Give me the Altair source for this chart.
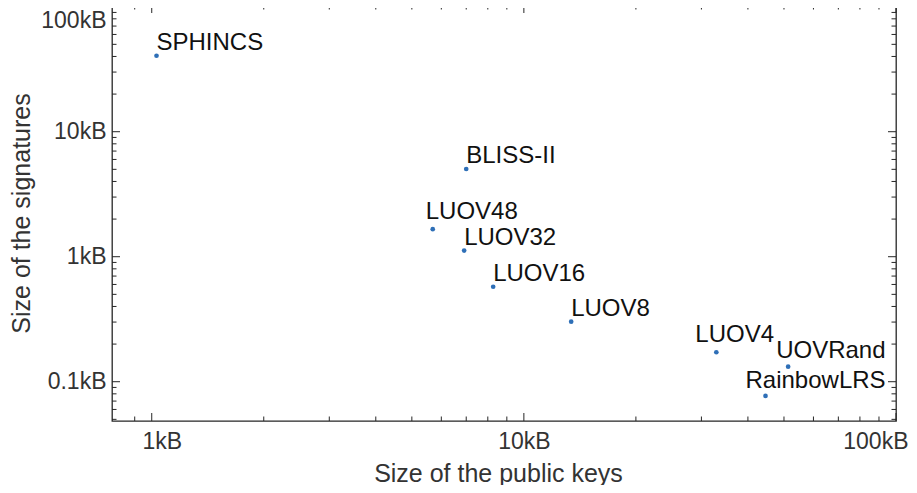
import altair as alt
import pandas as pd

# ---- data (sizes in kB) ----
names = ["SPHINCS", "BLISS-II", "LUOV48", "LUOV32", "LUOV16", "LUOV8", "LUOV4", "UOVRand", "RainbowLRS"]
public_key_kb = [1.03, 7.0, 5.69, 6.91, 8.27, 13.4, 32.9, 51.3, 44.6]
signature_kb = [40.5, 5.03, 1.66, 1.12, 0.575, 0.302, 0.172, 0.132, 0.077]

x_major = [1, 10, 100]
x_minor = [0.9, 2, 3, 4, 5, 6, 7, 8, 9, 20, 30, 40, 50, 60, 70, 80, 90]
y_major = [0.1, 1, 10, 100]
y_minor = [0.05, 0.06, 0.07, 0.08, 0.09, 0.2, 0.3, 0.4, 0.5, 0.6, 0.7, 0.8, 0.9,
           2, 3, 4, 5, 6, 7, 8, 9, 20, 30, 40, 50, 60, 70, 80, 90]

# ---- styling ----
W, H = 784, 416
FONT = "Liberation Sans"
AXIS_COLOR = "#262626"
TEXT_COLOR = "#333333"
POINT_COLOR = "#2e6fb7"
MAJOR, MINOR = 8, 4.5
X_DOMAIN = [0.782, 100]
Y_DOMAIN = [0.0485, 103.2]
# label nudges (pixels) so that labels sit as in the reference
NUDGE = {
    "SPHINCS": (0, -6), "BLISS-II": (0, -6), "LUOV48": (-7, -10), "LUOV32": (0, -6),
    "LUOV16": (0, -6), "LUOV8": (0, -6), "LUOV4": (-21, -10), "UOVRand": (-12, -9),
    "RainbowLRS": (-20, -8),
}

df = pd.DataFrame({"name": names, "pk": public_key_kb, "sig": signature_kb})

xscale = alt.Scale(type="log", domain=X_DOMAIN, nice=False)
yscale = alt.Scale(type="log", domain=Y_DOMAIN, nice=False)

X_AXIS = alt.Axis(
    values=x_major, labelExpr="datum.value + 'kB'", ticks=False, domain=False, grid=False,
    labelFont=FONT, labelFontSize=23, labelColor=TEXT_COLOR, labelPadding=9,
    labelFlush=5, labelFlushOffset=12,
    labelOffset={"condition": {"test": "datum.value == 1", "value": 10}, "value": 0},
    title="Size of the public keys", titleFont=FONT, titleFontSize=25,
    titleFontWeight="normal", titleColor=TEXT_COLOR, titleX=386, titleY=60,
    titleBaseline="alphabetic", titleAlign="center")
Y_AXIS = alt.Axis(
    values=y_major, labelExpr="datum.value + 'kB'", ticks=False, domain=False, grid=False,
    labelFont=FONT, labelFontSize=23, labelColor=TEXT_COLOR, labelPadding=6,
    labelFlush=12, labelFlushOffset=-3,
    title="Size of the signatures", titleFont=FONT, titleFontSize=25,
    titleFontWeight="normal", titleColor=TEXT_COLOR, titleX=-83, titleY=H / 2,
    titleAngle=-90, titleBaseline="alphabetic", titleAlign="center")


def X(field):
    return alt.X(field, scale=xscale, axis=X_AXIS)


def Y(field):
    return alt.Y(field, scale=yscale, axis=Y_AXIS)


base = alt.Chart(df)

points = base.mark_circle(size=22, opacity=1, color=POINT_COLOR).encode(
    x=X("pk:Q"), y=Y("sig:Q"))

labels = []
for n in names:
    dx, dy = NUDGE[n]
    labels.append(
        base.transform_filter(alt.datum.name == n).mark_text(
            align="left", baseline="alphabetic", dx=dx, dy=dy,
            font=FONT, fontSize=24, color="#111111"
        ).encode(x=X("pk:Q"), y=Y("sig:Q"), text="name:N")
    )


def xticks(vals, length):
    d = alt.Chart(pd.DataFrame({"pk": vals}))
    bottom = d.mark_rule(color=AXIS_COLOR, strokeWidth=1).encode(
        x=X("pk:Q"), y=alt.value(H), y2=alt.value(H - length))
    top = d.mark_rule(color=AXIS_COLOR, strokeWidth=1).encode(
        x=X("pk:Q"), y=alt.value(0), y2=alt.value(length))
    return [bottom, top]


def yticks(vals, length):
    d = alt.Chart(pd.DataFrame({"sig": vals}))
    left = d.mark_rule(color=AXIS_COLOR, strokeWidth=1).encode(
        y=Y("sig:Q"), x=alt.value(0), x2=alt.value(length))
    right = d.mark_rule(color=AXIS_COLOR, strokeWidth=1).encode(
        y=Y("sig:Q"), x=alt.value(W), x2=alt.value(W - length))
    return [left, right]


tick_layers = (xticks(x_major, MAJOR) + xticks(x_minor, MINOR)
               + yticks(y_major, MAJOR) + yticks(y_minor, MINOR))

chart = alt.layer(points, *labels, *tick_layers).properties(
    width=W, height=H,
    autosize=alt.AutoSizeParams(type="none"),
    padding={"left": 104, "top": -3, "right": 13, "bottom": 64},
    background="white",
).configure_view(stroke=AXIS_COLOR, strokeWidth=1.3)

chart.save("out.html", embed_options={"renderer": "svg", "actions": False})
